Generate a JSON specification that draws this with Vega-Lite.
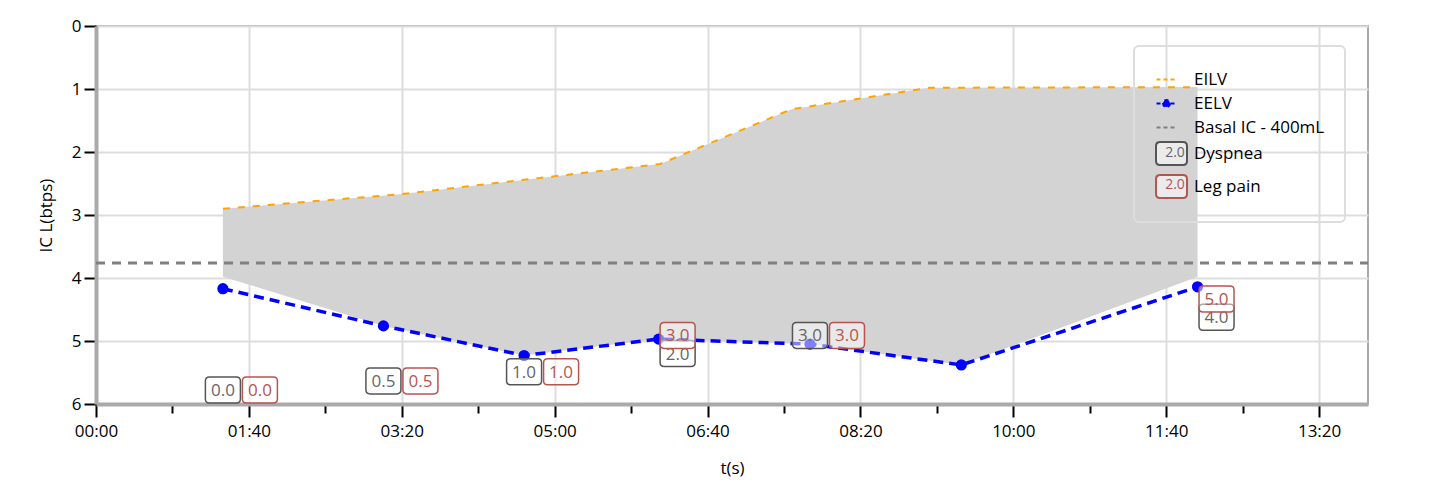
{
  "$schema": "https://vega.github.io/schema/vega-lite/v6.json",
  "width": 1272,
  "height": 378,
  "autosize": "none",
  "padding": {"left": 96, "top": 26, "right": 67, "bottom": 82},
  "background": "white",
  "datasets": {
    "curves": [
      {"series": "Basal IC - 400mL", "t": 0, "ic": 3.76}, {"series": "Basal IC - 400mL", "t": 832, "ic": 3.76},
      {"series": "EILV", "t": 83, "ic": 2.90}, {"series": "EILV", "t": 199, "ic": 2.67}, {"series": "EILV", "t": 369, "ic": 2.19},
      {"series": "EILV", "t": 455, "ic": 1.32}, {"series": "EILV", "t": 545, "ic": 0.98}, {"series": "EILV", "t": 720.5, "ic": 0.97},
      {"series": "EELV", "t": 83, "ic": 4.17}, {"series": "EELV", "t": 188, "ic": 4.76}, {"series": "EELV", "t": 280, "ic": 5.23},
      {"series": "EELV", "t": 368, "ic": 4.97}, {"series": "EELV", "t": 467, "ic": 5.05}, {"series": "EELV", "t": 566, "ic": 5.38},
      {"series": "EELV", "t": 720.5, "ic": 4.14}
    ],
    "band": [
      {"k": 1, "t": 83, "ic": 2.90}, {"k": 2, "t": 199, "ic": 2.67}, {"k": 3, "t": 369, "ic": 2.19},
      {"k": 4, "t": 455, "ic": 1.32}, {"k": 5, "t": 545, "ic": 0.98}, {"k": 6, "t": 720.5, "ic": 0.97},
      {"k": 7, "t": 720.5, "ic": 3.98}, {"k": 8, "t": 566, "ic": 5.38}, {"k": 9, "t": 467, "ic": 5.05},
      {"k": 10, "t": 368, "ic": 4.97}, {"k": 11, "t": 280, "ic": 5.23}, {"k": 12, "t": 188, "ic": 4.76},
      {"k": 13, "t": 83, "ic": 3.98}
    ],
    "symptoms": [
      {"t": 83, "dyspnea": 0, "legpain": 0},
      {"t": 188, "dyspnea": 0.5, "legpain": 0.5},
      {"t": 280, "dyspnea": 1, "legpain": 1},
      {"t": 368, "dyspnea": 2, "legpain": 3},
      {"t": 467, "dyspnea": 3, "legpain": 3},
      {"t": 720.5, "dyspnea": 4, "legpain": 5}
    ]
  },
  "layer": [
    {
      "layer": [
        {
          "data": {"name": "band"},
          "mark": {"type": "line", "fill": "#d3d3d3", "strokeOpacity": 0, "strokeWidth": 0},
          "encoding": {
            "x": {
              "field": "t", "type": "quantitative",
              "scale": {"domain": [0, 832], "nice": false, "zero": false},
              "axis": {
                "title": "t(s)",
                "values": [0, 50, 100, 150, 200, 250, 300, 350, 400, 450, 500, 550, 600, 650, 700, 750, 800],
                "labelExpr": "datum.value % 100 === 0 ? ((floor(datum.value/60) < 10 ? '0' : '') + floor(datum.value/60) + ':' + (datum.value % 60 < 10 ? '0' : '') + (datum.value % 60)) : ''",
                "grid": true,
                "gridColor": "#dddddd",
                "gridWidth": 2,
                "gridOpacity": {"condition": {"test": "datum.value % 100 === 0", "value": 1}, "value": 0},
                "tickColor": "black",
                "tickWidth": 2,
                "tickSize": {"condition": {"test": "datum.value % 100 === 0", "value": 13}, "value": 9},
                "domainColor": "#aaaaaa",
                "domainWidth": 4,
                "labelFontSize": 17,
                "labelColor": "black",
                "labelPadding": 6,
                "labelFlush": false,
                "labelOverlap": false,
                "titleFontSize": 17,
                "titleFontWeight": "normal",
                "titleColor": "black",
                "titlePadding": 21
              }
            },
            "y": {
              "field": "ic", "type": "quantitative",
              "scale": {"domain": [0, 6], "reverse": true, "nice": false, "zero": false},
              "axis": {
                "title": "IC L(btps)",
                "values": [0, 1, 2, 3, 4, 5, 6],
                "format": "d",
                "grid": true,
                "gridColor": "#dddddd",
                "gridWidth": 2,
                "tickColor": "black",
                "tickWidth": 2,
                "tickSize": 12,
                "domainColor": "#aaaaaa",
                "domainWidth": 4,
                "labelFontSize": 17,
                "labelColor": "black",
                "labelPadding": 3,
                "labelFlush": false,
                "titleFontSize": 17,
                "titleFontWeight": "normal",
                "titleColor": "black",
                "titlePadding": 16
              }
            },
            "order": {"field": "k", "type": "quantitative"}
          }
        },
        {
          "data": {"name": "curves"},
          "mark": {"type": "line"},
          "encoding": {
            "x": {"field": "t", "type": "quantitative"},
            "y": {"field": "ic", "type": "quantitative"},
            "strokeDash": {
              "field": "series", "type": "nominal",
              "scale": {"domain": ["EILV", "EELV", "Basal IC - 400mL"], "range": [[7, 8], [10, 6], [9, 7]]},
              "legend": null
            },
            "strokeWidth": {
              "field": "series", "type": "nominal",
              "scale": {"type": "ordinal", "domain": ["EILV", "EELV", "Basal IC - 400mL"], "range": [2, 3.5, 3]},
              "legend": null
            },
            "color": {
              "field": "series", "type": "nominal",
              "scale": {
                "domain": ["EILV", "EELV", "Basal IC - 400mL", "Dyspnea", "Leg pain"],
                "range": ["#ffa500", "#0000ff", "#808080", "#555555", "#b85450"]
              },
              "legend": {
                "title": null,
                "orient": "none",
                "legendX": 1038,
                "legendY": 20,
                "direction": "vertical",
                "padding": 20,
                "rowPadding": 2,
                "symbolSize": 625,
                "symbolOffset": 4,
                "labelOffset": 9,
                "labelFontSize": 17,
                "labelColor": "black",
                "labelLimit": 300,
                "strokeColor": "#dddddd",
                "cornerRadius": 5,
                "encode": {
                  "legend": {"update": {"strokeWidth": {"value": 2}}},
                  "symbols": {
                    "update": {
                      "shape": {"signal": "datum.value === 'EELV' ? 'M-1.2,0L0.4,0M-0.12,0A0.28,0.28 0 1 1 -0.68,0A0.28,0.28 0 1 1 -0.12,0Z' : ((datum.value === 'Dyspnea' || datum.value === 'Leg pain') ? 'M-0.92,-0.92L0.92,-0.92Q1.24,-0.92 1.24,-0.6L1.24,0.6Q1.24,0.92 0.92,0.92L-0.92,0.92Q-1.24,0.92 -1.24,0.6L-1.24,-0.6Q-1.24,-0.92 -0.92,-0.92Z' : 'M-1.2,0L0.4,0')"},
                      "fill": {"signal": "datum.value === 'EELV' ? '#0000ff' : ((datum.value === 'Dyspnea' || datum.value === 'Leg pain') ? '#ffffff' : 'transparent')"},
                      "fillOpacity": {"signal": "(datum.value === 'Dyspnea' || datum.value === 'Leg pain') ? 0.55 : 1"},
                      "stroke": {"signal": "datum.value === 'EILV' ? '#ffa500' : (datum.value === 'EELV' ? '#0000ff' : (datum.value === 'Basal IC - 400mL' ? '#909090' : (datum.value === 'Dyspnea' ? '#555555' : '#b85450')))"},
                      "strokeDash": {"signal": "(datum.value === 'Dyspnea' || datum.value === 'Leg pain') ? [100, 0] : [4, 3]"},
                      "strokeWidth": {"value": 2},
                      "opacity": {"value": 1}
                    }
                  }
                }
              }
            }
          }
        },
        {
          "data": {"name": "curves"},
          "transform": [{"filter": "datum.series === 'EELV'"}],
          "mark": {"type": "point", "filled": true, "size": 125, "opacity": 1, "color": "#0000ff"},
          "encoding": {
            "x": {"field": "t", "type": "quantitative"},
            "y": {"field": "ic", "type": "quantitative"}
          }
        }
      ]
    },
    {
      "data": {"name": "symptoms"},
      "layer": [
        {
          "transform": [{"filter": "datum.dyspnea == datum.legpain"}],
          "mark": {"type": "point", "size": 1225, "filled": true, "fill": "#ffffff", "fillOpacity": 0.5, "stroke": "#555555", "strokeWidth": 1.5, "opacity": 1, "xOffset": 0},
          "encoding": {
            "x": {"field": "t", "type": "quantitative"},
            "y": {"field": "dyspnea", "type": "quantitative", "scale": {"domain": [-0.77, 20], "nice": false, "zero": false}, "axis": null},
            "shape": {
              "datum": "Dyspnea",
              "scale": {
                "domain": ["Dyspnea"],
                "range": ["M-0.77,-0.743L0.77,-0.743Q1,-0.743 1,-0.513L1,0.513Q1,0.743 0.77,0.743L-0.77,0.743Q-1,0.743 -1,0.513L-1,-0.513Q-1,-0.743 -0.77,-0.743Z"]
              },
              "legend": {
                "title": null,
                "orient": "none",
                "legendX": 1065,
                "legendY": 120,
                "padding": 0,
                "symbolSize": 1,
                "symbolOpacity": 0,
                "labelOffset": 0,
                "labelAlign": "center",
                "labelFontSize": 14,
                "labelColor": "#666666",
                "labelExpr": "'2.0'"
              }
            }
          }
        },
        {
          "transform": [{"filter": "datum.dyspnea != datum.legpain"}],
          "mark": {"type": "point", "shape": "M-0.77,-0.743L0.77,-0.743Q1,-0.743 1,-0.513L1,0.513Q1,0.743 0.77,0.743L-0.77,0.743Q-1,0.743 -1,0.513L-1,-0.513Q-1,-0.743 -0.77,-0.743Z", "size": 1225, "filled": true, "fill": "#ffffff", "fillOpacity": 0.5, "stroke": "#555555", "strokeWidth": 1.5, "opacity": 1, "xOffset": 19},
          "encoding": {
            "x": {"field": "t", "type": "quantitative"},
            "y": {"field": "dyspnea", "type": "quantitative", "axis": null}
          }
        },
        {
          "transform": [{"filter": "datum.dyspnea == datum.legpain"}],
          "mark": {"type": "text", "fontSize": 17, "fill": "#666666", "xOffset": 0, "align": "center", "baseline": "middle", "dy": 1},
          "encoding": {
            "x": {"field": "t", "type": "quantitative"},
            "y": {"field": "dyspnea", "type": "quantitative", "axis": null},
            "text": {"field": "dyspnea", "type": "quantitative", "format": ".1f"}
          }
        },
        {
          "transform": [{"filter": "datum.dyspnea != datum.legpain"}],
          "mark": {"type": "text", "fontSize": 17, "fill": "#666666", "xOffset": 19, "align": "center", "baseline": "middle", "dy": 1},
          "encoding": {
            "x": {"field": "t", "type": "quantitative"},
            "y": {"field": "dyspnea", "type": "quantitative", "axis": null},
            "text": {"field": "dyspnea", "type": "quantitative", "format": ".1f"}
          }
        },
        {
          "transform": [{"filter": "datum.dyspnea == datum.legpain"}],
          "mark": {"type": "point", "size": 1225, "filled": true, "fill": "#ffffff", "fillOpacity": 0.5, "stroke": "#b85450", "strokeWidth": 1.5, "opacity": 1, "xOffset": 37},
          "encoding": {
            "x": {"field": "t", "type": "quantitative"},
            "y": {"field": "legpain", "type": "quantitative", "axis": null},
            "shape": {
              "datum": "Leg pain",
              "scale": {
                "domain": ["Leg pain"],
                "range": ["M-0.77,-0.743L0.77,-0.743Q1,-0.743 1,-0.513L1,0.513Q1,0.743 0.77,0.743L-0.77,0.743Q-1,0.743 -1,0.513L-1,-0.513Q-1,-0.743 -0.77,-0.743Z"]
              },
              "legend": {
                "title": null,
                "orient": "none",
                "legendX": 1065,
                "legendY": 152,
                "padding": 0,
                "symbolSize": 1,
                "symbolOpacity": 0,
                "labelOffset": 0,
                "labelAlign": "center",
                "labelFontSize": 14,
                "labelColor": "#b85450",
                "labelExpr": "'2.0'"
              }
            }
          }
        },
        {
          "transform": [{"filter": "datum.dyspnea != datum.legpain"}],
          "mark": {"type": "point", "shape": "M-0.77,-0.743L0.77,-0.743Q1,-0.743 1,-0.513L1,0.513Q1,0.743 0.77,0.743L-0.77,0.743Q-1,0.743 -1,0.513L-1,-0.513Q-1,-0.743 -0.77,-0.743Z", "size": 1225, "filled": true, "fill": "#ffffff", "fillOpacity": 0.5, "stroke": "#b85450", "strokeWidth": 1.5, "opacity": 1, "xOffset": 19},
          "encoding": {
            "x": {"field": "t", "type": "quantitative"},
            "y": {"field": "legpain", "type": "quantitative", "axis": null}
          }
        },
        {
          "transform": [{"filter": "datum.dyspnea == datum.legpain"}],
          "mark": {"type": "text", "fontSize": 17, "fill": "#b85450", "xOffset": 37, "align": "center", "baseline": "middle", "dy": 1},
          "encoding": {
            "x": {"field": "t", "type": "quantitative"},
            "y": {"field": "legpain", "type": "quantitative", "axis": null},
            "text": {"field": "legpain", "type": "quantitative", "format": ".1f"}
          }
        },
        {
          "transform": [{"filter": "datum.dyspnea != datum.legpain"}],
          "mark": {"type": "text", "fontSize": 17, "fill": "#b85450", "xOffset": 19, "align": "center", "baseline": "middle", "dy": 1},
          "encoding": {
            "x": {"field": "t", "type": "quantitative"},
            "y": {"field": "legpain", "type": "quantitative", "axis": null},
            "text": {"field": "legpain", "type": "quantitative", "format": ".1f"}
          }
        }
      ],
      "resolve": {"scale": {"shape": "independent"}}
    }
  ],
  "resolve": {"scale": {"y": "independent"}},
  "config": {
    "font": "Open Sans",
    "view": {"stroke": "#aaaaaa", "strokeWidth": 2}
  }
}
